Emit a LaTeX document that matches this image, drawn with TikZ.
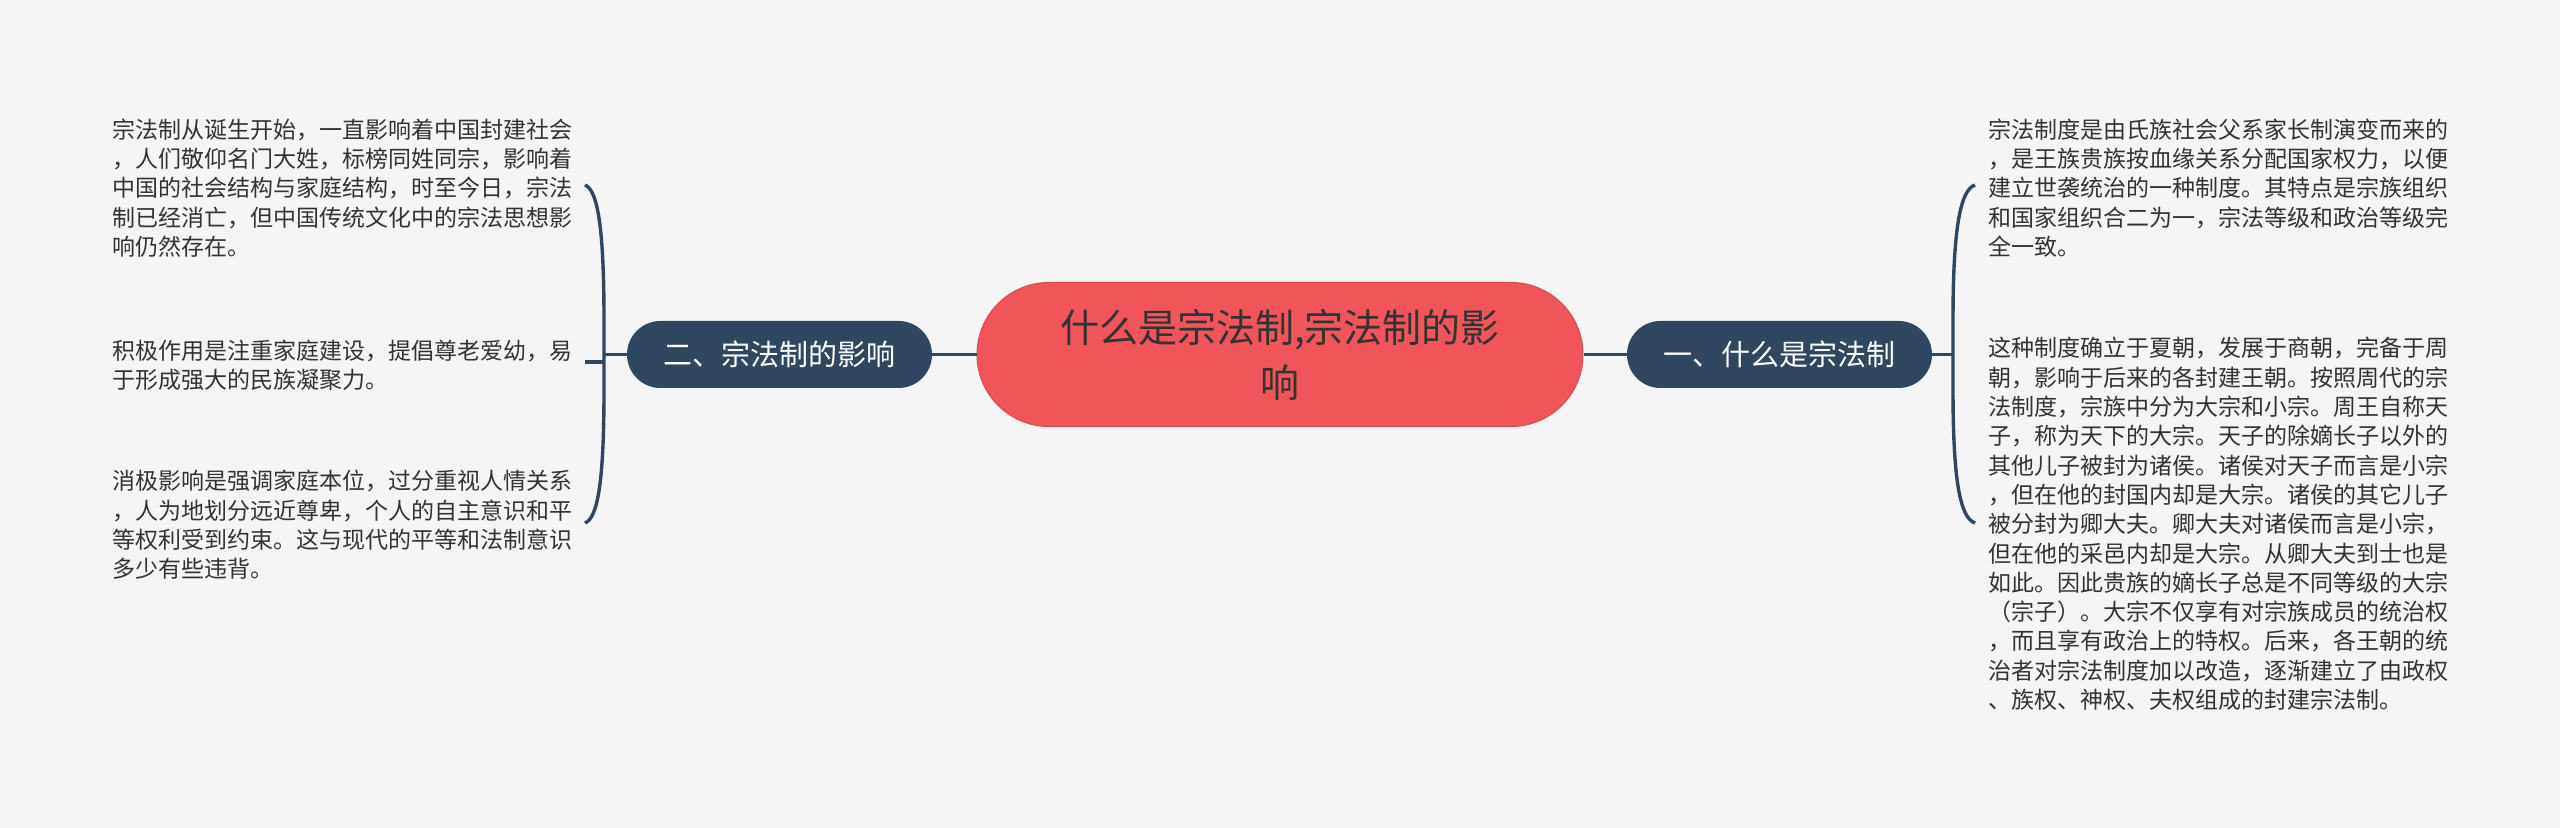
\documentclass[tikz,border=0pt]{standalone}
\usepackage{fontspec}
\setmainfont{Noto Sans CJK SC}
\definecolor{bg}{HTML}{F5F5F5}
\definecolor{navy}{HTML}{30475F}
\definecolor{coral}{HTML}{F0555A}
\definecolor{coralb}{HTML}{D94A4E}
\definecolor{txt}{HTML}{333333}
\begin{document}
\begin{tikzpicture}[x=0.5pt,y=-0.5pt,
  link/.style={draw=navy,line width=1.7pt},
  rootbox/.style={fill=coral,draw=coralb,line width=0.5pt,rounded corners=36pt,minimum width=303pt,minimum height=72pt,align=center,text=txt,font=\fontsize{19.5pt}{27.5pt}\selectfont,inner sep=0pt},
  branchbox/.style={fill=navy,rounded corners=16.75pt,minimum width=152.5pt,minimum height=33.5pt,text=white,font=\fontsize{14.5pt}{17pt}\selectfont,inner sep=0pt},
  leaf/.style={anchor=west,align=left,inner sep=0pt,text=txt,font=\fontsize{11.5pt}{14.65pt}\selectfont}]
\fill[bg] (0,0) rectangle (2560,828);
\useasboundingbox (0,0) rectangle (2560,828);

% root and branches
\node[rootbox] (root) at (1280,354.5) {什么是宗法制,宗法制的影\\响};
\node[branchbox] (b1) at (1779.5,354.5) {一、什么是宗法制};
\node[branchbox] (b2) at (779.5,354.5) {二、宗法制的影响};

% leaves left
\node[leaf] (l1) at (112,188) {宗法制从诞生开始，一直影响着中国封建社会\\，人们敬仰名门大姓，标榜同姓同宗，影响着\\中国的社会结构与家庭结构，时至今日，宗法\\制已经消亡，但中国传统文化中的宗法思想影\\响仍然存在。};
\node[leaf] (l2) at (112,365) {积极作用是注重家庭建设，提倡尊老爱幼，易\\于形成强大的民族凝聚力。};
\node[leaf] (l3) at (112,525) {消极影响是强调家庭本位，过分重视人情关系\\，人为地划分远近尊卑，个人的自主意识和平\\等权利受到约束。这与现代的平等和法制意识\\多少有些违背。};

% leaves right
\node[leaf] (r1) at (1988,188) {宗法制度是由氏族社会父系家长制演变而来的\\，是王族贵族按血缘关系分配国家权力，以便\\建立世袭统治的一种制度。其特点是宗族组织\\和国家组织合二为一，宗法等级和政治等级完\\全一致。};
\node[leaf] (r2) at (1988,524) {这种制度确立于夏朝，发展于商朝，完备于周\\朝，影响于后来的各封建王朝。按照周代的宗\\法制度，宗族中分为大宗和小宗。周王自称天\\子，称为天下的大宗。天子的除嫡长子以外的\\其他儿子被封为诸侯。诸侯对天子而言是小宗\\，但在他的封国内却是大宗。诸侯的其它儿子\\被分封为卿大夫。卿大夫对诸侯而言是小宗，\\但在他的采邑内却是大宗。从卿大夫到士也是\\如此。因此贵族的嫡长子总是不同等级的大宗\\（宗子）。大宗不仅享有对宗族成员的统治权\\，而且享有政治上的特权。后来，各王朝的统\\治者对宗法制度加以改造，逐渐建立了由政权\\、族权、神权、夫权组成的封建宗法制。};

% root to branches
\draw[link] (root.east) -- (b1.west);
\draw[link] (root.west) -- (b2.east);

% left bracket
\coordinate (LJ) at (604,354.5);
\coordinate (L1) at (585,185);
\coordinate (L2) at (585,362);
\coordinate (L2j) at (604,362);
\coordinate (L3) at (585,523);
\draw[link] (b2.west) -- (LJ);
\draw[link] (L1) .. controls (598,190) and (604,230) .. (604,320) -- (604,390) .. controls (604,480) and (598,518) .. (L3);
\draw[link] (L2) -- (L2j);

% right bracket
\coordinate (RJ) at (1953,354.5);
\coordinate (R1) at (1975,185);
\coordinate (R2) at (1975,523);
\draw[link] (b1.east) -- (RJ);
\draw[link] (R1) .. controls (1960,190) and (1953,230) .. (1953,320) -- (1953,390) .. controls (1953,480) and (1960,518) .. (R2);
\end{tikzpicture}
\end{document}
